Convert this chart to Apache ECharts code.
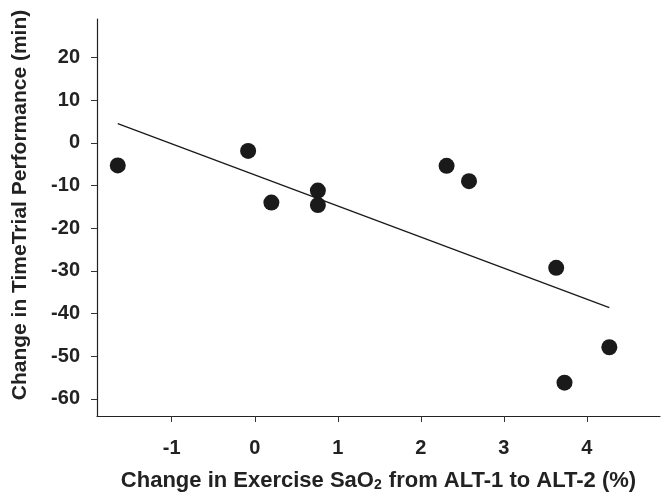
<!DOCTYPE html>
<html>
<head>
<meta charset="utf-8">
<script src="https://cdn.jsdelivr.net/npm/echarts@6/dist/echarts.min.js"></script>
<style>html,body{margin:0;padding:0;background:#fff;}#c{width:662px;height:492px;}</style>
</head>
<body>
<div id="c"></div>
<script>
var xValues = [-1.65, -0.08, 0.20, 0.76, 0.76, 2.31, 2.58, 3.63, 3.73, 4.27];
var yValues = [-5.3, -1.9, -14.0, -11.2, -14.6, -5.4, -9.0, -29.3, -56.2, -47.9];
var fitX = [-1.65, 4.27];
var fitY = [4.5, -38.6];
var xTicks = [-1, 0, 1, 2, 3, 4];
var yTicks = [20, 10, 0, -10, -20, -30, -40, -50, -60];
var xTitle = 'Change in Exercise SaO{sub|2} from ALT-1 to ALT-2 (%)';
var yTitle = 'Change in TimeTrial Performance (min)';

var FONT = '"Liberation Sans", Arial, sans-serif';
var points = xValues.map(function (x, i) { return [x, yValues[i]]; });
var fit = fitX.map(function (x, i) { return [x, fitY[i]]; });

var chart = echarts.init(document.getElementById('c'), null, {renderer: 'canvas'});
chart.setOption({
  backgroundColor: '#fff',
  animation: false,
  grid: {left: 97, right: 2, top: 19, bottom: 76, containLabel: false, outerBoundsMode: 'none'},
  graphic: [{
    type: 'text', x: 20, y: 205, rotation: Math.PI / 2,
    style: {text: yTitle, font: 'bold 21px ' + FONT, fill: '#222', align: 'center', verticalAlign: 'middle'}
  }],
  xAxis: {
    type: 'value', min: -1.9, max: 4.88,
    name: xTitle,
    nameLocation: 'middle', nameGap: 53,
    nameTextStyle: {
      fontFamily: FONT, fontWeight: 'bold', fontSize: 22, color: '#222',
      rich: {sub: {fontFamily: FONT, fontWeight: 'bold', fontSize: 14, color: '#222', verticalAlign: 'bottom', padding: [9, 1, 0, 0]}}
    },
    axisLine: {show: true, onZero: false, lineStyle: {color: '#222', width: 1.2}},
    axisTick: {show: true, inside: false, length: 6, customValues: xTicks, lineStyle: {color: '#333'}},
    axisLabel: {customValues: xTicks, margin: 22, fontFamily: FONT, fontWeight: 'bold', fontSize: 20, color: '#222'},
    splitLine: {show: false}
  },
  yAxis: {
    type: 'value', min: -64, max: 29,
    axisLine: {show: true, onZero: false, lineStyle: {color: '#222', width: 1.2}},
    axisTick: {show: true, inside: false, length: 6, customValues: yTicks, lineStyle: {color: '#333'}},
    axisLabel: {customValues: yTicks, margin: 17, fontFamily: FONT, fontWeight: 'bold', fontSize: 20, color: '#222'},
    splitLine: {show: false}
  },
  series: [
    {type: 'line', data: fit, symbol: 'none', lineStyle: {color: '#1a1a1a', width: 1.3}, z: 2},
    {type: 'scatter', data: points, symbol: 'circle', symbolSize: 16, itemStyle: {color: '#1a1a1a', opacity: 1}, z: 3}
  ]
});
</script>
</body>
</html>
